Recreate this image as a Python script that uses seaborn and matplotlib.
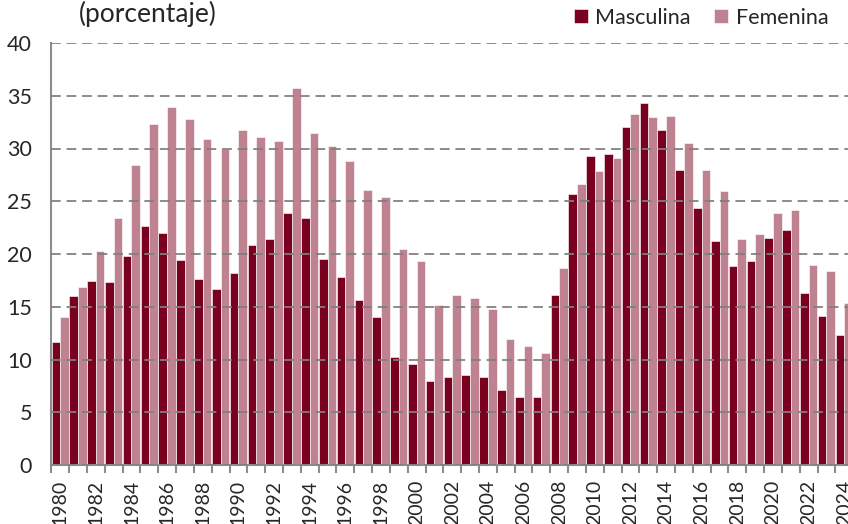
import matplotlib
matplotlib.use("Agg")
import matplotlib.pyplot as plt
from matplotlib.ticker import FixedLocator, NullFormatter
import seaborn as sns
import pandas as pd

years = list(range(1980, 2025))
masculina = [11.7, 16.0, 17.4, 17.3, 19.8, 22.7, 22.0, 19.4, 17.6, 16.7,
             18.2, 20.9, 21.4, 23.9, 23.4, 19.5, 17.8, 15.6, 14.0, 10.2,
             9.6, 8.0, 8.3, 8.5, 8.3, 7.1, 6.4, 6.4, 16.1, 25.7,
             29.3, 29.5, 32.0, 34.3, 31.8, 28.0, 24.4, 21.2, 18.9, 19.3,
             21.5, 22.3, 16.3, 14.1, 12.3]
femenina = [14.0, 16.9, 20.3, 23.4, 28.4, 32.3, 33.9, 32.8, 30.9, 30.0,
            31.8, 31.1, 30.7, 35.7, 31.5, 30.2, 28.8, 26.1, 25.4, 20.5,
            19.3, 15.2, 16.1, 15.8, 14.8, 11.9, 11.3, 10.6, 18.7, 26.6,
            27.9, 29.1, 33.3, 33.0, 33.1, 30.5, 28.0, 26.0, 21.4, 21.9,
            23.9, 24.2, 19.0, 18.4, 15.4]
series = ["Masculina", "Femenina"]
colors = ["#7a0020", "#bf8290"]
y_ticks = [0, 5, 10, 15, 20, 25, 30, 35, 40]
title = "(porcentaje)"

df = pd.DataFrame({
    "Año": [str(y) for y in years] * 2,
    "Valor": masculina + femenina,
    "Sexo": [series[0]] * len(years) + [series[1]] * len(years),
})

sns.set_style("white")
plt.rcParams["font.family"] = ["Lato", "DejaVu Sans"]

W, H = 848, 524
fig = plt.figure(figsize=(W / 100, H / 100), dpi=100)
ax = fig.add_axes([51.3 / W, (H - 465) / H, (W - 51.3) / W, (465 - 43) / H])

sns.barplot(data=df, x="Año", y="Valor", hue="Sexo", palette=colors,
            width=0.97, saturation=1, ax=ax, legend=True,
            edgecolor="#ffffff", linewidth=0.4)

n = len(years)
ax.set_xlim(-0.5, -0.5 + (W - 51.3) / 17.82)
ax.set_ylim(0, 40)
ax.set_yticks(y_ticks)
ax.set_yticklabels([str(v) for v in y_ticks])

ax.set_xticks(range(0, n, 2))
ax.set_xticklabels([str(y) for y in years[::2]], rotation=90)
ax.xaxis.set_minor_locator(FixedLocator([i - 0.5 for i in range(n + 1)]))
ax.xaxis.set_minor_formatter(NullFormatter())
ax.tick_params(axis="x", which="major", length=0, pad=10.5, labelsize=14)
ax.tick_params(axis="x", which="minor", length=6, width=1.5, color="#8c8c8c",
               bottom=True)
ax.tick_params(axis="y", length=0, pad=14, labelsize=15.5)

ax.set_xlabel("")
ax.set_ylabel("")

ax.yaxis.grid(True, color="#7f7f7f", linestyle=(0, (5, 3)), linewidth=1.4,
              alpha=0.9)
ax.set_axisbelow(False)
for side in ["top", "right"]:
    ax.spines[side].set_visible(False)
for side in ["left", "bottom"]:
    ax.spines[side].set_color("#8c8c8c")
    ax.spines[side].set_linewidth(1.5)

handles, labels = ax.get_legend_handles_labels()
ax.legend(handles, labels, loc="upper left", bbox_to_anchor=(566 / W, 1.0),
          bbox_transform=fig.transFigure, ncol=2, frameon=False,
          fontsize=15.5, handlelength=0.65, handleheight=0.65,
          handletextpad=0.35, columnspacing=1.1, borderaxespad=0.15,
          borderpad=0.2)

fig.text(79 / W, 0.998, title, ha="left", va="top", fontsize=19)

fig.savefig("out.png", dpi=100)
